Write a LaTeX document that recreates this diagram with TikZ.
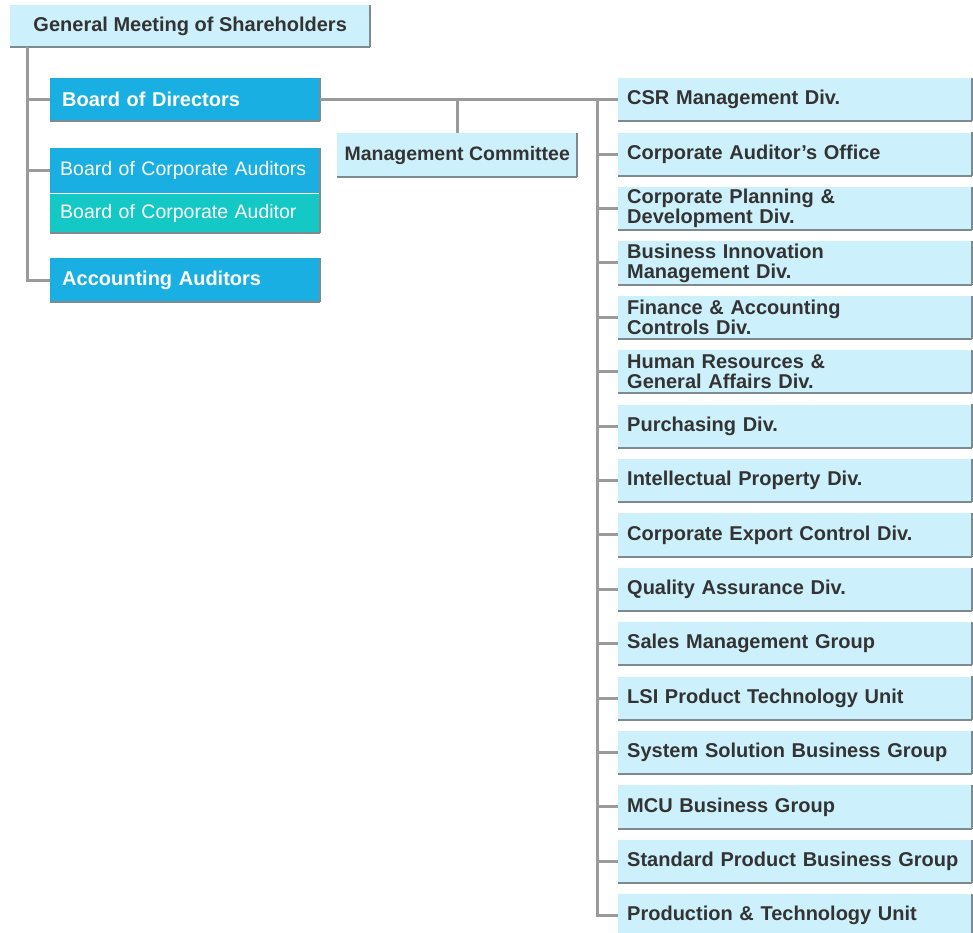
\documentclass[tikz,border=0pt]{standalone}
\usepackage{fontspec}
\setmainfont{Liberation Sans}
\usetikzlibrary{positioning}

\definecolor{paleblue}{HTML}{CDF1FC}
\definecolor{boardblue}{HTML}{1AAFE3}
\definecolor{auditteal}{HTML}{14C8C6}
\definecolor{darktext}{HTML}{333333}
\definecolor{edgegray}{HTML}{7D8A8E}
\definecolor{linegray}{HTML}{9B9B9B}

\begin{document}
\begin{tikzpicture}[x=1pt,y=-1pt,node distance=11pt,
  edge line/.style={-,draw=edgegray,line width=2pt,line cap=square},
  plain box/.style={rectangle,inner sep=0pt,minimum height=43pt,
    font=\fontsize{20}{20}\selectfont\bfseries},
  box/.style={plain box,append after command={
    (\tikzlastnode.south west) edge[edge line] (\tikzlastnode.south east)
    (\tikzlastnode.south east) edge[edge line] (\tikzlastnode.north east)}},
  top box/.style={box,fill=paleblue,text=darktext,minimum width=360pt,minimum height=42pt},
  left box/.style={box,fill=boardblue,text=white,text width=246pt,align=left,inner xsep=12pt},
  audit box/.style={text width=250pt,inner xsep=10pt,font=\fontsize{19.5}{20}\selectfont},
  mid box/.style={box,fill=paleblue,text=darktext,minimum width=240pt,minimum height=44pt,
    font=\fontsize{19.5}{20}\selectfont\bfseries},
  div box/.style={box,fill=paleblue,text=darktext,text width=336pt,align=left,inner xsep=9pt},
  conn/.style={draw=linegray,line width=3pt}]

  \useasboundingbox (0,0) rectangle (973,932);

  % governing bodies
  \node[top box,anchor=north west] (gm) at (10,5) {General Meeting of Shareholders};
  \node[left box,anchor=north west] (bod) at (50,78) {Board of Directors};
  \node[plain box,fill=boardblue,text=white,align=left,audit box,
    minimum height=45pt,anchor=north west] (bca1) at (50,148)
    {Board of Corporate Auditors};
  \node[left box,fill=auditteal,audit box,minimum height=39pt,
    below=0pt of bca1] (bca2) {Board of Corporate Auditor};
  \node[left box,anchor=north west,minimum height=44pt] (acc) at (50,258) {Accounting Auditors};
  \node[mid box,anchor=north west] (mc) at (337,133) {Management Committee};

  % divisions
  \node[div box,anchor=north west] (csr) at (618,78) {CSR Management Div.};
  \node[div box,below=of csr] (cao) {Corporate Auditor's Office};
  \node[div box,below=of cao] (cpd) {Corporate Planning \&\\Development Div.};
  \node[div box,below=of cpd] (bim) {Business Innovation\\Management Div.};
  \node[div box,below=of bim] (fac) {Finance \& Accounting\\Controls Div.};
  \node[div box,below=of fac] (hrga) {Human Resources \&\\General Affairs Div.};
  \node[div box,below=of hrga] (pur) {Purchasing Div.};
  \node[div box,below=of pur] (ipd) {Intellectual Property Div.};
  \node[div box,below=of ipd] (cec) {Corporate Export Control Div.};
  \node[div box,below=of cec] (qad) {Quality Assurance Div.};
  \node[div box,below=of qad] (smg) {Sales Management Group};
  \node[div box,below=of smg] (lsi) {LSI Product Technology Unit};
  \node[div box,below=of lsi] (ssbg) {System Solution Business Group};
  \node[div box,below=of ssbg] (mcu) {MCU Business Group};
  \node[div box,below=of mcu] (spbg) {Standard Product Business Group};
  \node[div box,below=of spbg] (ptu) {Production \& Technology Unit};

  \draw[edge line] (bca1.north east) -- (bca1.south east);

  \coordinate (gmtrunk) at ([xshift=17pt]gm.south west);
  \coordinate (rtrunk) at ([xshift=-21pt]csr.west);

  \draw[conn] (gmtrunk) |- (bod.west)
    (gmtrunk) |- (bca1.west)
    (gmtrunk) |- (acc.west);

  \draw[conn] (bod.east) -- (csr.west);
  \draw[conn] (mc.north) -- (mc.north |- bod.east);

  \draw[conn] (rtrunk) |- (cao.west)
    (rtrunk) |- (cpd.west)
    (rtrunk) |- (bim.west)
    (rtrunk) |- (fac.west)
    (rtrunk) |- (hrga.west)
    (rtrunk) |- (pur.west)
    (rtrunk) |- (ipd.west)
    (rtrunk) |- (cec.west)
    (rtrunk) |- (qad.west)
    (rtrunk) |- (smg.west)
    (rtrunk) |- (lsi.west)
    (rtrunk) |- (ssbg.west)
    (rtrunk) |- (mcu.west)
    (rtrunk) |- (spbg.west)
    (rtrunk) |- (ptu.west);

\end{tikzpicture}
\end{document}
